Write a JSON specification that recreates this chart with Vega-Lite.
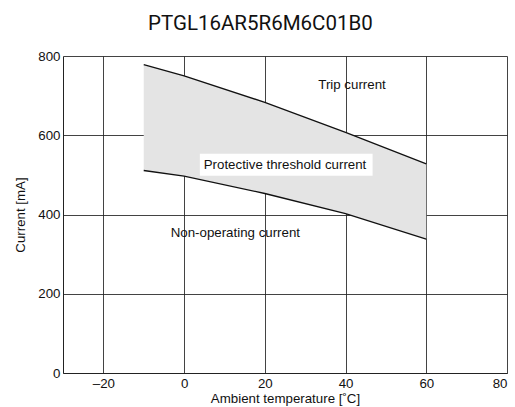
{
  "$schema": "https://vega.github.io/schema/vega-lite/v6.json",
  "width": 444,
  "height": 317,
  "autosize": {"type": "none"},
  "padding": {"left": 63, "top": 56, "right": 8, "bottom": 34},
  "background": "white",
  "title": {"text": "PTGL16AR5R6M6C01B0", "font": "Roboto", "fontSize": 20.5, "fontWeight": "normal", "color": "#111", "anchor": "middle", "frame": "bounds", "offset": 15},
  "config": {
    "view": {"stroke": null},
    "axis": {"labelFont": "Liberation Sans", "titleFont": "Liberation Sans", "labelFontSize": 13.3, "titleFontSize": 13.3, "titleFontWeight": "normal", "labelColor": "#111", "titleColor": "#111", "grid": true, "gridColor": "#222", "gridOpacity": 0.85, "ticks": false, "domainColor": "#222"}
  },
  "datasets": {
    "curves": [
      {"temp": -10, "trip": 778, "nonop": 511},
      {"temp": 0, "trip": 750, "nonop": 497},
      {"temp": 20, "trip": 683, "nonop": 453},
      {"temp": 40, "trip": 607, "nonop": 402},
      {"temp": 60, "trip": 528, "nonop": 338}
    ],
    "labels": [
      {"temp": 41.6, "cur": 727, "label": "Trip current"},
      {"temp": 25.0, "cur": 526, "label": "Protective threshold current"},
      {"temp": 12.7, "cur": 353, "label": "Non-operating current"}
    ],
    "box": [{"x1": 3.9, "x2": 46.7, "y1": 498, "y2": 553}]
  },
  "layer": [
    {
      "data": {"name": "curves"},
      "mark": {"type": "area", "color": "#e4e4e4"},
      "encoding": {
        "x": {"field": "temp", "type": "quantitative", "scale": {"domain": [-30, 80]}, "axis": {"values": [-20, 0, 20, 40, 60, 80], "title": "Ambient temperature [˚C]", "labelExpr": "replace(datum.label, '−', '–')", "labelPadding": 3, "titlePadding": 2}},
        "y": {"field": "trip", "type": "quantitative", "scale": {"domain": [0, 800]}, "axis": {"values": [0, 200, 400, 600, 800], "title": "Current [mA]", "labelPadding": 3, "titlePadding": 10}},
        "y2": {"field": "nonop"}
      }
    },
    {
      "data": {"name": "box"},
      "mark": {"type": "rect", "color": "white"},
      "encoding": {
        "x": {"field": "x1", "type": "quantitative"},
        "x2": {"field": "x2"},
        "y": {"field": "y1", "type": "quantitative"},
        "y2": {"field": "y2"}
      }
    },
    {
      "data": {"name": "curves"},
      "mark": {"type": "line", "color": "#111", "strokeWidth": 1.3},
      "encoding": {
        "x": {"field": "temp", "type": "quantitative"},
        "y": {"field": "trip", "type": "quantitative"}
      }
    },
    {
      "data": {"name": "curves"},
      "mark": {"type": "line", "color": "#111", "strokeWidth": 1.3},
      "encoding": {
        "x": {"field": "temp", "type": "quantitative"},
        "y": {"field": "nonop", "type": "quantitative"}
      }
    },
    {
      "data": {"name": "labels"},
      "mark": {"type": "text", "font": "Liberation Sans", "fontSize": 13.3, "color": "#111", "align": "center", "baseline": "middle"},
      "encoding": {
        "x": {"field": "temp", "type": "quantitative"},
        "y": {"field": "cur", "type": "quantitative"},
        "text": {"field": "label"}
      }
    }
  ]
}
